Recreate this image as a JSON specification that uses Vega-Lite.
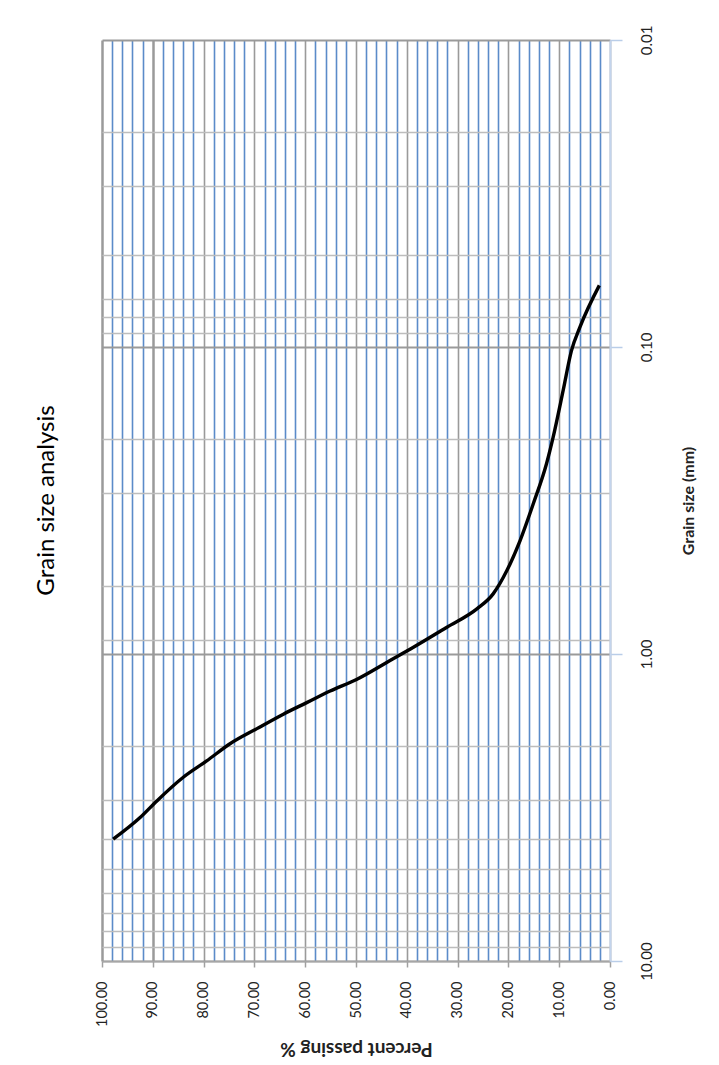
{
  "$schema": "https://vega.github.io/schema/vega-lite/v6.json",
  "width": 508,
  "height": 921,
  "autosize": {"type": "none"},
  "padding": {"left": 102, "top": 40, "right": 109, "bottom": 104},
  "background": "white",
  "config": {
    "view": {"stroke": null},
    "font": "Lato, sans-serif"
  },
  "title": {
    "text": "Grain size analysis",
    "orient": "left",
    "anchor": "middle",
    "frame": "group",
    "angle": -90,
    "baseline": "bottom",
    "offset": 11,
    "fontSize": 24,
    "fontWeight": "normal",
    "font": "Lato, sans-serif",
    "color": "#000000"
  },
  "data": {
    "values": [
      {"size": 4.01, "passing": 97.8},
      {"size": 3.41, "passing": 92.5},
      {"size": 3.01, "passing": 89.2},
      {"size": 2.52, "passing": 84.0},
      {"size": 2.23, "passing": 79.4},
      {"size": 1.96, "passing": 74.8},
      {"size": 1.75, "passing": 69.5},
      {"size": 1.57, "passing": 64.3},
      {"size": 1.44, "passing": 59.7},
      {"size": 1.32, "passing": 55.1},
      {"size": 1.21, "passing": 49.9},
      {"size": 1.05, "passing": 43.3},
      {"size": 0.951, "passing": 38.7},
      {"size": 0.818, "passing": 32.1},
      {"size": 0.713, "passing": 26.2},
      {"size": 0.637, "passing": 23.0},
      {"size": 0.535, "passing": 20.3},
      {"size": 0.427, "passing": 17.7},
      {"size": 0.324, "passing": 15.1},
      {"size": 0.24, "passing": 12.5},
      {"size": 0.197, "passing": 11.2},
      {"size": 0.138, "passing": 9.2},
      {"size": 0.103, "passing": 7.6},
      {"size": 0.086, "passing": 5.9},
      {"size": 0.063, "passing": 2.1}
    ]
  },
  "mark": {"type": "line", "color": "#000000", "strokeWidth": 3.4, "interpolate": "monotone"},
  "encoding": {
    "x": {
      "field": "passing",
      "type": "quantitative",
      "scale": {"domain": [0, 100], "reverse": true, "nice": false, "zero": false},
      "axis": {
        "orient": "bottom",
        "title": "Percent passing %",
        "titleAngle": 180,
        "titleBaseline": "bottom",
        "titlePadding": 12,
        "titleFontSize": 19,
        "titleFontWeight": "bold",
        "titleColor": "#222222",
        "values": [0,2,4,6,8,10,12,14,16,18,20,22,24,26,28,30,32,34,36,38,40,42,44,46,48,50,52,54,56,58,60,62,64,66,68,70,72,74,76,78,80,82,84,86,88,90,92,94,96,98,100],
        "labelExpr": "datum.value % 10 == 0 ? format(datum.value, '.2f') : ''",
        "labelAngle": -90,
        "labelAlign": "right",
        "labelBaseline": "middle",
        "labelFontSize": 14.5,
        "labelColor": "#222222",
        "labelPadding": 14,
        "labelOverlap": false,
        "labelFlush": false,
        "labelBound": false,
        "tickSize": 6,
        "tickColor": "#a0a0a0",
        "tickWidth": 1.5,
        "tickOpacity": {"condition": {"test": "datum.value % 10 == 0", "value": 1}, "value": 0},
        "domain": true,
        "domainColor": "#a6a6a6",
        "domainWidth": 1.5,
        "grid": true,
        "gridColor": {"condition": {"test": "datum.value % 10 == 0", "value": "#9a9a9a"}, "value": "#5b8bc9"},
        "gridWidth": {"condition": {"test": "datum.value == 100 || datum.value == 90", "value": 2.5}, "value": 1.6},
        "gridOpacity": 1
      }
    },
    "y": {
      "field": "size",
      "type": "quantitative",
      "scale": {"type": "log", "domain": [0.01, 10], "reverse": true, "nice": false},
      "axis": {
        "orient": "right",
        "title": "Grain size (mm)",
        "titleAngle": -90,
        "titleBaseline": "top",
        "titlePadding": 26,
        "titleFontSize": 16,
        "titleFontWeight": "bold",
        "titleColor": "#222222",
        "values": [0.01,0.02,0.03,0.05,0.07,0.08,0.09,0.1,0.2,0.3,0.6,0.9,1,2,3,4,5,6,7,8,9,10],
        "labelExpr": "(datum.value == 0.01 || datum.value == 0.1 || datum.value == 1 || datum.value == 10) ? format(datum.value, '.2f') : ''",
        "labelAngle": -90,
        "labelAlign": "center",
        "labelBaseline": "top",
        "labelFontSize": 15,
        "labelColor": "#222222",
        "labelPadding": 17,
        "labelOverlap": false,
        "labelFlush": false,
        "labelBound": false,
        "tickSize": 12,
        "tickColor": "#b9cde8",
        "tickWidth": 1.5,
        "tickOpacity": {"condition": {"test": "datum.value == 0.01 || datum.value == 0.1 || datum.value == 1 || datum.value == 10", "value": 1}, "value": 0},
        "domain": true,
        "domainColor": "#c3d4ec",
        "domainWidth": 2,
        "grid": true,
        "gridColor": {"condition": {"test": "datum.value == 0.01 || datum.value == 0.1 || datum.value == 1 || datum.value == 10", "value": "#9a9a9a"}, "value": "#bdbdbd"},
        "gridWidth": {"condition": {"test": "datum.value == 0.01 || datum.value == 0.1 || datum.value == 1 || datum.value == 10", "value": 2}, "value": 1.5},
        "gridOpacity": 1
      }
    }
  }
}
